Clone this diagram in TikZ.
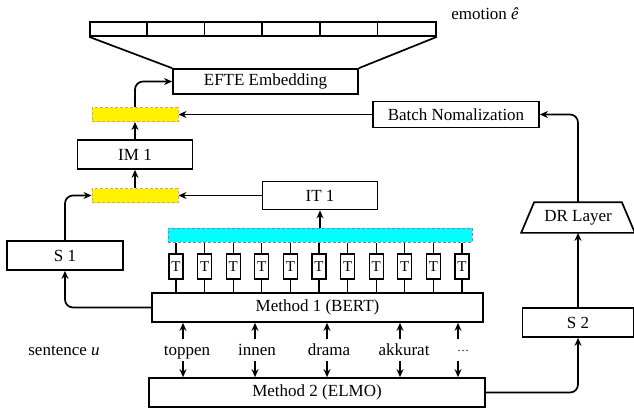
\documentclass[tikz,border=0pt]{standalone}
\usepackage{fontspec}
\setmainfont{Liberation Serif}
\usetikzlibrary{arrows.meta}
\newcommand\myfs{\fontsize{17}{20}\selectfont}
\newcommand\mytfs{\fontsize{15}{18}\selectfont}
\definecolor{yel}{RGB}{255,242,0}
\definecolor{yelb}{RGB}{215,170,90}
\definecolor{cyn}{RGB}{0,255,255}
\definecolor{cynb}{RGB}{125,125,200}
\begin{document}
\begin{tikzpicture}[x=1pt,y=-1pt,line width=1.7pt,
  box/.style={draw,minimum width=#1,minimum height=29,inner sep=0pt,font=\myfs},
  ybar/.style={fill=yel,draw=yelb,line width=1pt,dash pattern=on 3pt off 2pt,minimum width=86,minimum height=14,inner sep=0pt},
  cbar/.style={fill=cyn,draw=cynb,line width=1pt,dash pattern=on 3pt off 2pt,minimum width=304,minimum height=14,inner sep=0pt},
  tbox/.style={draw,minimum width=14,minimum height=25,inner sep=0pt,font=\mytfs,line width=1.3pt},
  word/.style={inner sep=0pt,text height=15pt,text depth=5pt,font=\myfs},
  arr/.style={-{Stealth[length=8pt,width=7pt]}},
  rc/.style={rounded corners=8pt}]
\useasboundingbox (0,0) rectangle (634,413);

% top output bar
\node[box=346,minimum height=14] (bar) at (263,29) {};
\foreach \i in {1,...,5}
  \draw ([xshift=\i*57.67pt]bar.north west) -- ([xshift=\i*57.67pt]bar.south west);
\node[box=185,minimum height=25] (efte) at (265.5,81.5) {EFTE Embedding};
\draw (bar.south west) -- (efte.north west);
\draw (bar.south east) -- (efte.north east);
\node[font=\myfs] (emo) at (485,14) {emotion \textit{ê}};

% left column
\node[ybar] (y1) at (135,114.5) {};
\node[box=115] (im1) at (135,154.5) {IM 1};
\node[ybar] (y2) at (135,195.5) {};
\node[box=116] (s1) at (65,255.5) {S 1};
\node[box=115,minimum height=28] (it1) at (320,195.5) {IT 1};
\node[box=166,minimum height=26] (batch) at (456,114.5) {Batch Nomalization};

% BERT part
\node[cbar] (cyan) at (320,235) {};
\node[box=331] (m1) at (317.5,307.5) {Method 1 (BERT)};
\foreach \i in {0,...,10} {
  \node[tbox] (t\i) at (176+28.6*\i,266.5) {T};
  \draw[line width=1.3pt] (cyan.south -| t\i.north) -- (t\i.north);
  \draw[line width=1.3pt] (t\i.south) -- (t\i.south |- m1.north);
}
\node[box=336] (m2) at (317,392.5) {Method 2 (ELMO)};

% words
\node[font=\myfs] (sent) at (64,351) {sentence \textit{u}};
\foreach \x/\w/\a/\n in {187/toppen/183/w1,257/innen/255/w2,329/drama/327/w3,404/akkurat/400/w4,463/{\raisebox{4pt}{\fontsize{12}{12}\selectfont …}}/458/w5} {
  \node[word] (\n) at (\x,350) {\w};
  \path ([xshift=\a pt-\x pt]\n.north) coordinate (\n a);
  \path ([xshift=\a pt-\x pt]\n.south) coordinate (\n b);
  \draw[arr] (\n a) -- (\n a |- m1.south);
  \draw[arr] (\n b) -- (\n b |- m2.north);
}

% right column
\node[box=111] (s2) at (578,322.5) {S 2};
\node[minimum width=112,minimum height=29,inner sep=0pt,font=\myfs] (dr) at (578,217.5) {DR Layer};
\draw (dr.south west) -- (dr.south east) -- ([xshift=-13pt]dr.north east) -- ([xshift=13pt]dr.north west) -- cycle;

% connectors
\draw[arr,rc] (y1.north) |- (efte.west);
\draw[arr] (im1.north) -- (y1.south);
\draw[arr] (y2.north) -- (im1.south);
\draw[arr] (it1.west) -- (y2.east);
\draw[arr,rc] (s1.north) |- (y2.west);
\draw[arr,rc] (m1.west) -| (s1.south);
\draw[arr] (cyan.north) -- (it1.south);
\draw[arr] (batch.west) -- (y1.east);
\draw[arr,rc] (m2.east) -| (s2.south);
\draw[arr] (s2.north) -- (dr.south);
\draw[arr,rc] (dr.north) |- (batch.east);
\end{tikzpicture}
\end{document}
